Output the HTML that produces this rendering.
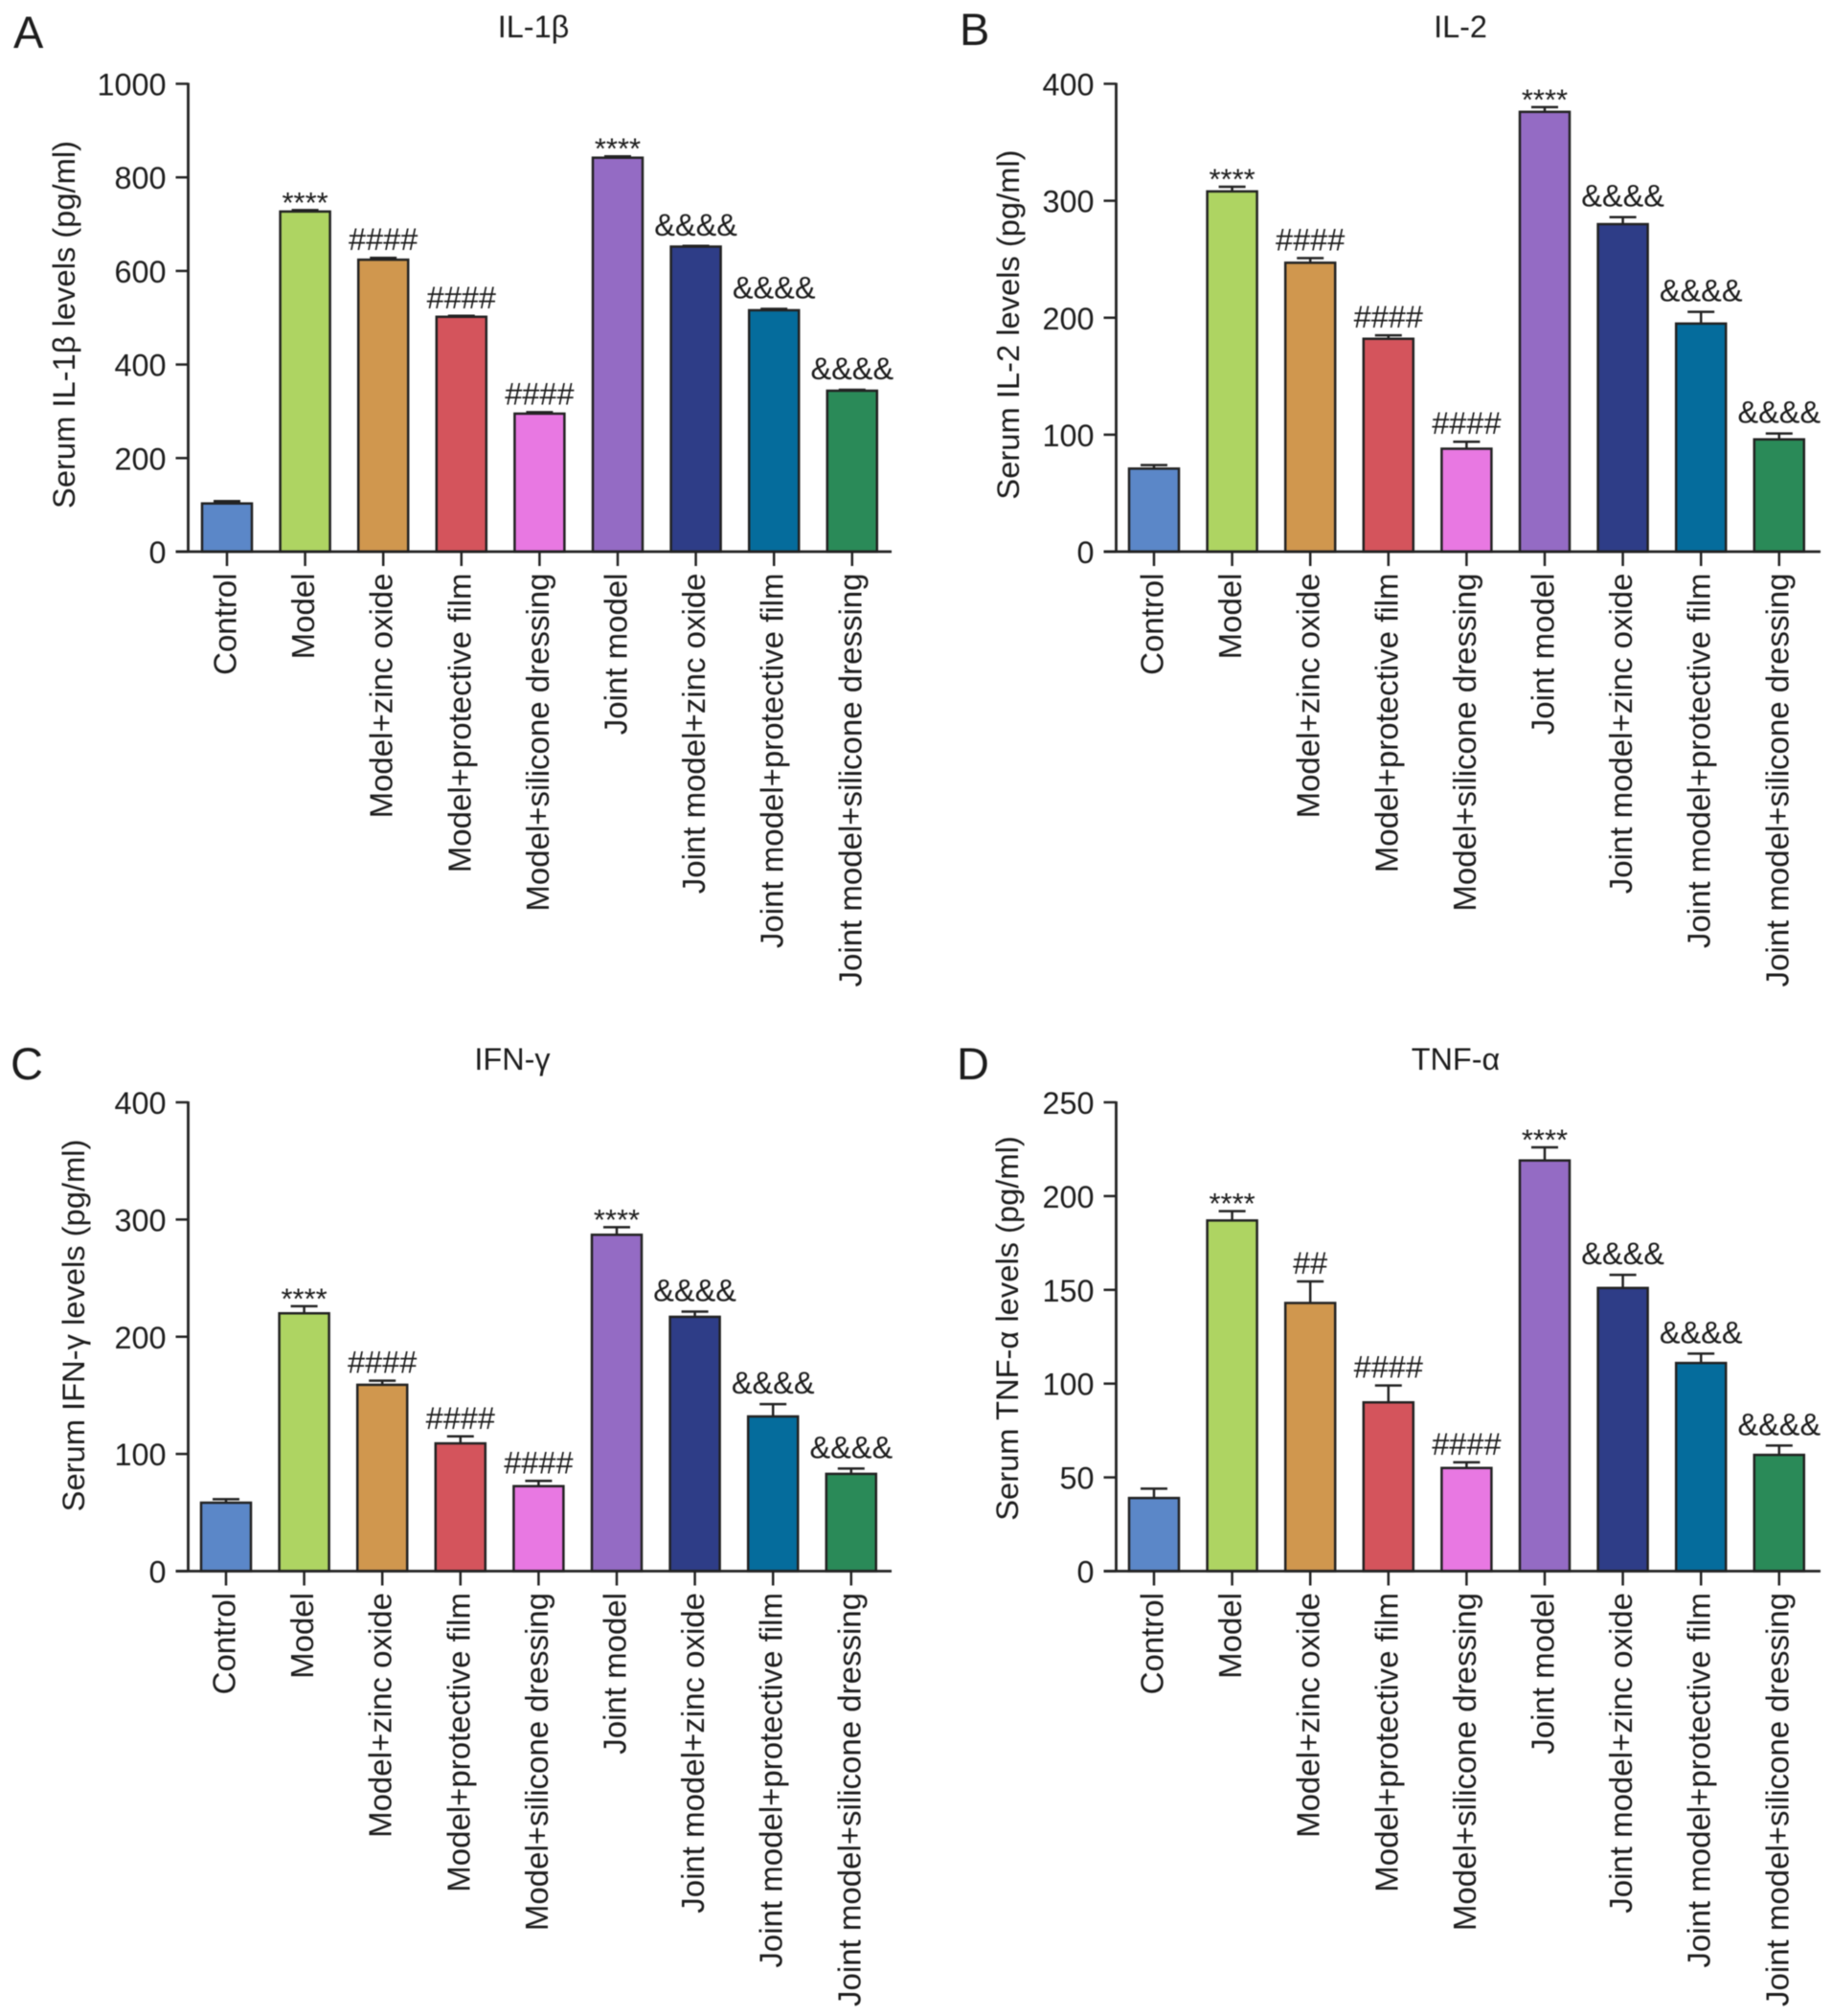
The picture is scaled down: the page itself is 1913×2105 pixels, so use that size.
<!DOCTYPE html>
<html lang="en">
<head>
<meta charset="utf-8">
<title>Serum cytokine levels</title>
<style>
html,body{margin:0;padding:0;background:#fff;width:1913px;height:2105px;overflow:hidden}
svg{display:block;filter:blur(0.6px)}
text{font-family:"Liberation Sans",sans-serif;fill:#1c1c1c}
</style>
</head>
<body>
<svg id="figure" xmlns="http://www.w3.org/2000/svg" width="1913" height="2105" viewBox="0 0 1913 2105"></svg>
<script>
const categories = ["Control","Model","Model+zinc oxide","Model+protective film","Model+silicone dressing","Joint model","Joint model+zinc oxide","Joint model+protective film","Joint model+silicone dressing"];
const barColors = ["#5b87c8","#aed462","#d0974e","#d4545c","#e878e2","#946bc4","#2e3d87","#056c9c","#2a8a58"];

const il1bValues = [103,727,624,502,295,842,652,516,344];
const il1bErrors = [5,3,4,2,3,3,1.5,3,2];
const il1bTicks = [0,200,400,600,800,1000];
const il1bMarks = ["","****","####","####","####","****","&&&&","&&&&","&&&&"];

const il2Values = [71,308,247,182,88,376,280,195,96];
const il2Errors = [3,4,4,3,6,4,6,10,5];
const il2Ticks = [0,100,200,300,400];
const il2Marks = ["","****","####","####","####","****","&&&&","&&&&","&&&&"];

const ifnValues = [58.4,220,159,109,72.5,287,217,132,83];
const ifnErrors = [3,6,3.5,6,4.5,6.5,4.5,10.5,4.5];
const ifnTicks = [0,100,200,300,400];
const ifnMarks = ["","****","####","####","####","****","&&&&","&&&&","&&&&"];

const tnfValues = [39,187,143,90,55,219,151,111,62];
const tnfErrors = [5,5,11.5,9,3,7,7,5,5];
const tnfTicks = [0,50,100,150,200,250];
const tnfMarks = ["","****","##","####","####","****","&&&&","&&&&","&&&&"];

const SVG_NS = "http://www.w3.org/2000/svg";
const figure = document.getElementById("figure");

function shape(parent, tag, attrs, content) {
  const el = document.createElementNS(SVG_NS, tag);
  for (const k in attrs) el.setAttribute(k, attrs[k]);
  if (content !== undefined) el.textContent = content;
  parent.appendChild(el);
  return el;
}

function drawPanel(p) {
  const g = shape(figure, "g", {});
  
  

  const yScale = v => p.baseY - (v / p.max) * (p.baseY - p.topY);
  const xScale = i => p.firstX + i * 81.6;
  const barW = 52;
  const capW = 28;
  const ink = "#222222";

  const letter = shape(g, "text", {x:p.letterX, y:p.letterY, "font-size":47}, p.letter);
  
  

  const title = shape(g, "text", {x:p.titleX, y:p.titleY, "font-size":32.4, "text-anchor":"middle"}, p.title);
  
  

  const axisTitle = shape(g, "text", {transform:"translate(" + p.yTitleX + " " + p.yTitleY + ") rotate(-90)", "font-size":32.7, "text-anchor":"middle"}, p.yTitle);
  
  

  p.values.forEach((v, i) => {
    const cx = xScale(i);
    const top = yScale(v);
    const errTop = yScale(v + p.errors[i]);

    const stem = shape(g, "line", {x1:cx, x2:cx, y1:top, y2:errTop, stroke:ink, "stroke-width":2.5});
    
    

    const cap = shape(g, "line", {x1:cx-capW/2, x2:cx+capW/2, y1:errTop, y2:errTop, stroke:ink, "stroke-width":2.5});
    
    

    const bar = shape(g, "rect", {x:cx-barW/2, y:top, width:barW, height:p.baseY-top, fill:barColors[i], stroke:ink, "stroke-width":2.5});
    
    

    const mark = p.marks[i];
    if (mark) {
      const isStar = mark.charAt(0) === "*";
      const isAmp = mark.charAt(0) === "&";
      const offset = isStar ? 2.5 : (isAmp ? -11 : -8);
      const sig = shape(g, "text", {x:cx, y:errTop + offset, "font-size":isStar ? 31 : 32.5, "text-anchor":"middle"}, mark);
      
      
    }

    const tick = shape(g, "line", {x1:cx, x2:cx, y1:p.baseY, y2:p.baseY+15, stroke:ink, "stroke-width":2.5});
    
    

    const label = shape(g, "text", {transform:"translate(" + (cx+9.5) + " " + (p.baseY+22.5) + ") rotate(-90)", "font-size":33, "text-anchor":"end"}, categories[i]);
    
    
  });

  const yAxis = shape(g, "line", {x1:p.axisX, x2:p.axisX, y1:p.topY-1, y2:p.baseY, stroke:ink, "stroke-width":2.8});
  
  

  const xAxis = shape(g, "line", {x1:p.axisX-13, x2:p.endX, y1:p.baseY, y2:p.baseY, stroke:ink, "stroke-width":2.8});
  
  

  p.ticks.forEach(t => {
    const ty = yScale(t);
    const tk = shape(g, "line", {x1:p.axisX-13, x2:p.axisX, y1:ty, y2:ty, stroke:ink, "stroke-width":2.5});
    
    

    const tl = shape(g, "text", {x:p.axisX-23, y:ty+12, "font-size":32.4, "text-anchor":"end"}, String(t));
    
    
  });
}

drawPanel({key:"a", letter:"A", letterX:14, letterY:50, title:"IL-1β", titleX:557, titleY:39,
  yTitle:"Serum IL-1β levels (pg/ml)", yTitleX:78, yTitleY:339,
  axisX:196.5, endX:931, firstX:237, topY:87.5, baseY:576, max:1000,
  values:il1bValues, errors:il1bErrors, ticks:il1bTicks, marks:il1bMarks});

drawPanel({key:"b", letter:"B", letterX:1002, letterY:47, title:"IL-2", titleX:1525, titleY:39,
  yTitle:"Serum IL-2 levels (pg/ml)", yTitleX:1064, yTitleY:339,
  axisX:1165.5, endX:1901, firstX:1205, topY:87.5, baseY:576, max:400,
  values:il2Values, errors:il2Errors, ticks:il2Ticks, marks:il2Marks});

drawPanel({key:"c", letter:"C", letterX:11, letterY:1127, title:"IFN-γ", titleX:535, titleY:1117,
  yTitle:"Serum IFN-γ levels (pg/ml)", yTitleX:88, yTitleY:1384,
  axisX:196.5, endX:931, firstX:236, topY:1151, baseY:1640.5, max:400,
  values:ifnValues, errors:ifnErrors, ticks:ifnTicks, marks:ifnMarks});

drawPanel({key:"d", letter:"D", letterX:999, letterY:1127, title:"TNF-α", titleX:1520, titleY:1117,
  yTitle:"Serum TNF-α levels (pg/ml)", yTitleX:1063, yTitleY:1387,
  axisX:1165.5, endX:1901, firstX:1205, topY:1151, baseY:1640.5, max:250,
  values:tnfValues, errors:tnfErrors, ticks:tnfTicks, marks:tnfMarks});
</script>
</body>
</html>
